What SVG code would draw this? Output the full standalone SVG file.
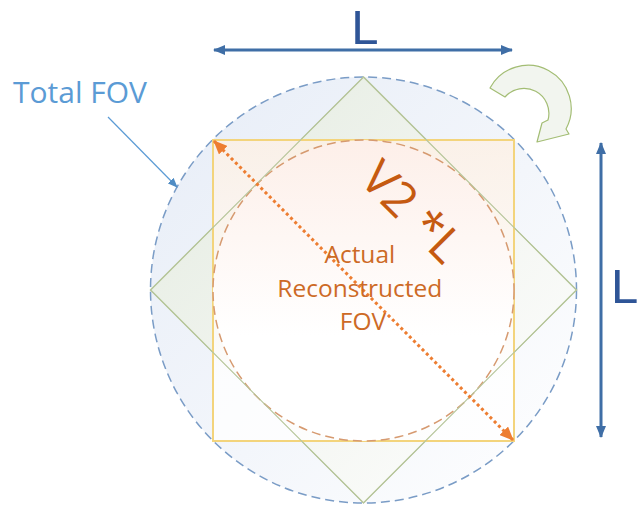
<svg xmlns="http://www.w3.org/2000/svg" width="639" height="506" viewBox="0 0 639 506">
  <defs>
    <style>
      .lbl { font-family: "Open Sans", "Liberation Sans", sans-serif; }
      .dim { stroke: #3f6ea6; stroke-width: 3; fill: none; }
      .dimL { fill: #2f5597; font-size: 49px; font-family: "Liberation Sans", Arial, sans-serif; }
    </style>
    <linearGradient id="gCircle" x1="0" y1="0" x2="1" y2="1">
      <stop offset="0" stop-color="#e7edf7"/>
      <stop offset="0.55" stop-color="#f3f6fb"/>
      <stop offset="1" stop-color="#ffffff"/>
    </linearGradient>
    <linearGradient id="gDiamond" x1="0" y1="0" x2="1" y2="1">
      <stop offset="0" stop-color="#e2eadb"/>
      <stop offset="0.6" stop-color="#f5f7f2"/>
      <stop offset="1" stop-color="#ffffff"/>
    </linearGradient>
    <linearGradient id="gSquare" x1="0" y1="0" x2="0" y2="1">
      <stop offset="0" stop-color="#fdf0e4"/>
      <stop offset="0.8" stop-color="#ffffff"/>
    </linearGradient>
    <linearGradient id="gInner" x1="0" y1="0" x2="0" y2="1">
      <stop offset="0" stop-color="#fdefe9"/>
      <stop offset="0.65" stop-color="#ffffff"/>
    </linearGradient>
    <marker id="mBlue" viewBox="0 0 12 10" refX="11" refY="5" markerWidth="12" markerHeight="10" markerUnits="userSpaceOnUse" orient="auto-start-reverse">
      <path d="M0,0 L12,5 L0,10 Z" fill="#3f6ea6"/>
    </marker>
    <marker id="mThin" viewBox="0 0 10 8" refX="9" refY="4" markerWidth="10" markerHeight="8" markerUnits="userSpaceOnUse" orient="auto">
      <path d="M0,0 L10,4 L0,8 Z" fill="#4f8cc4"/>
    </marker>
    <marker id="mOrange" viewBox="0 0 14 12" refX="13" refY="6" markerWidth="14" markerHeight="12" markerUnits="userSpaceOnUse" orient="auto-start-reverse">
      <path d="M0,0 L14,6 L0,12 Z" fill="#ed7d31"/>
    </marker>
  </defs>

  <!-- field-of-view shapes -->
  <g id="total-fov">
    <circle cx="363.5" cy="290" r="213" fill="url(#gCircle)" stroke="#7a9cc6" stroke-width="1.5" stroke-dasharray="9 5"/>
  </g>
  <g id="rotated-square">
    <polygon points="363.5,77 576.5,290 363.5,503 150.5,290" fill="url(#gDiamond)" fill-opacity="0.85" stroke="#b7c69c" stroke-width="1.2"/>
  </g>
  <g id="square">
    <rect x="213" y="140" width="301" height="301" fill="url(#gSquare)" fill-opacity="0.8" stroke="#f3d47c" stroke-width="2"/>
  </g>
  <g id="reconstructed-fov">
    <circle cx="363.5" cy="290.5" r="150.5" fill="url(#gInner)" stroke="#d69a70" stroke-width="1.5" stroke-dasharray="9 5"/>
  </g>
  <!-- diamond outline drawn again so its edges stay visible over the fills -->
  <polygon points="363.5,77 576.5,290 363.5,503 150.5,290" fill="none" stroke="#b7c69c" stroke-width="1.2"/>

  <!-- rotation arrow -->
  <g id="rotation">
    <path d="M490,88 A42,42 0 1 1 566,129 L569,134 L537,142 L542,123 L548,120 A25,25 0 0 0 505,97 Z" fill="#f2f5ef" stroke="#a3bd74" stroke-width="1.2" stroke-linejoin="round"/>
  </g>

  <!-- connectors -->
  <g id="connectors">
    <line class="dim" x1="214" y1="50" x2="512" y2="50" marker-start="url(#mBlue)" marker-end="url(#mBlue)"/>
    <line class="dim" x1="601" y1="143" x2="601" y2="437" marker-start="url(#mBlue)" marker-end="url(#mBlue)"/>
    <line x1="108" y1="117" x2="177" y2="187" stroke="#5b9bd5" stroke-width="1.2" marker-end="url(#mThin)"/>
    <line x1="214" y1="141" x2="513" y2="440" stroke="#ed7d31" stroke-width="3" stroke-dasharray="3 3" marker-start="url(#mOrange)" marker-end="url(#mOrange)"/>
  </g>

  <!-- labels -->
  <g id="labels">
    <text class="dimL" x="365" y="44" text-anchor="middle">L</text>
    <text class="dimL" x="611" y="303">L</text>
    <text class="lbl" x="13" y="103" font-size="30" fill="#5b9bd5">Total FOV</text>
    <text class="lbl" transform="translate(358,181) rotate(45)" font-size="48" fill="#c55a11">V2 *L</text>
    <text class="lbl" font-size="24.5" fill="#cd6a26" text-anchor="middle">
      <tspan x="363" y="263">Actual</tspan>
      <tspan x="363" y="297">Reconstructed</tspan>
      <tspan x="363" y="330">FOV</tspan>
    </text>
  </g>
</svg>
